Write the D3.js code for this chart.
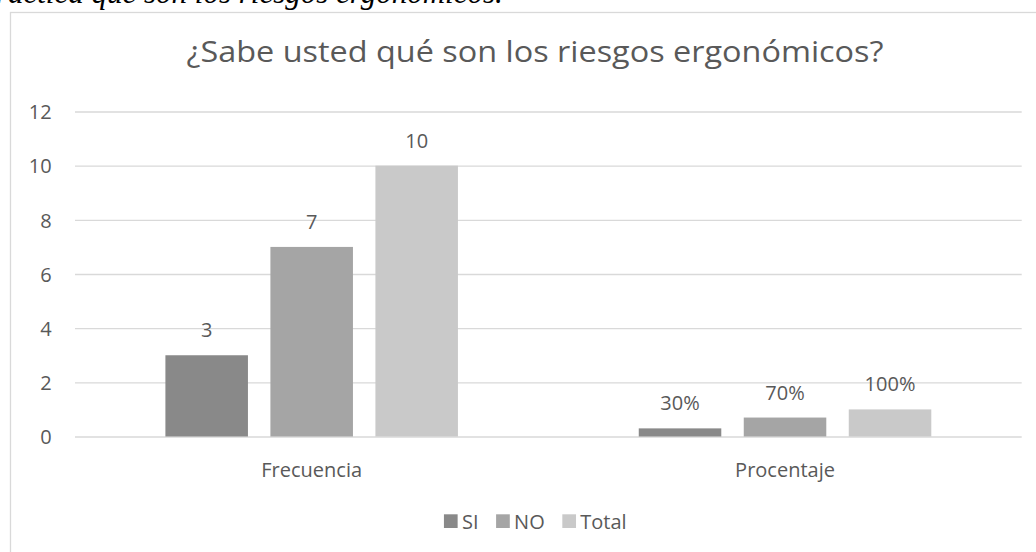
<!DOCTYPE html>
<html>
<head>
<meta charset="utf-8">
<script src="https://cdn.jsdelivr.net/npm/d3@7"></script>
<style>
  html, body { margin: 0; padding: 0; background: #fff; }
  svg { display: block; }
  text { font-family: "Open Sans", sans-serif; fill: #595959; }
</style>
</head>
<body>
<svg id="chart" width="1036" height="552"></svg>
<script>
const categories = ["Frecuencia", "Procentaje"];
const seriesNames = ["SI", "NO", "Total"];
const siValues = [3, 0.3];
const noValues = [7, 0.7];
const totalValues = [10, 1];
const siLabels = ["3", "30%"];
const noLabels = ["7", "70%"];
const totalLabels = ["10", "100%"];
const yTicks = [0, 2, 4, 6, 8, 10, 12];
const colors = ["#898989", "#a5a5a5", "#c9c9c9"];
const titleText = "¿Sabe usted qué son los riesgos ergonómicos?";
const captionText = "Pregunta 1. Práctica que son los riesgos ergonómicos.";

(function () {
const svg = d3.select("#chart");

// caption above the chart (cut off at the top)
svg.append("text")
  .attr("x", -176).attr("y", 2.5)
  .style("font-family", "'Liberation Serif', serif")
  .style("font-style", "italic")
  .style("font-size", "31px")
  .style("fill", "#000")
  .text(captionText);

// chart border
svg.append("rect")
  .attr("x", 10.5).attr("y", 12.5)
  .attr("width", 1100).attr("height", 600)
  .attr("fill", "#fff").attr("stroke", "#d9d9d9").attr("stroke-width", 1.3);

// title
svg.append("text")
  .attr("x", 535).attr("y", 62)
  .attr("text-anchor", "middle")
  .attr("textLength", 697).attr("lengthAdjust", "spacingAndGlyphs")
  .style("font-size", "30px")
  .text(titleText);

const pLeft = 75, pRight = 1021.7, pTop = 111.5, pBottom = 436.5;
const y = d3.scaleLinear().domain([0, 12]).range([pBottom, pTop]);
const x0 = d3.scaleBand().domain(categories).range([pLeft, pRight]);
const x1 = d3.scaleBand().domain(seriesNames).range([0, x0.bandwidth()])
  .paddingInner(0.214).paddingOuter(0.861);

// y axis with gridlines
const yAxis = svg.append("g")
  .attr("transform", `translate(${pLeft},0)`)
  .call(d3.axisLeft(y).tickValues(yTicks).tickSize(-(pRight - pLeft)).tickPadding(23.3));
yAxis.select(".domain").remove();
yAxis.selectAll(".tick line").attr("stroke", "#d9d9d9").attr("stroke-width", 1.4);
yAxis.selectAll(".tick text").style("font-size", "20px").style("fill", "#595959")
  .attr("dy", "0.36em").style("font-family", "'Open Sans', sans-serif");

// x axis labels
const xAxis = svg.append("g")
  .attr("transform", `translate(0,${pBottom})`)
  .call(d3.axisBottom(x0).tickSize(0).tickPadding(26));
xAxis.select(".domain").remove();
xAxis.selectAll(".tick text").style("font-size", "20px").style("fill", "#595959")
  .attr("dy", "0.71em").style("font-family", "'Open Sans', sans-serif");

const seriesVals = [siValues, noValues, totalValues];
const seriesLabels = [siLabels, noLabels, totalLabels];

const rows = [];
seriesNames.forEach((s, si) => {
  categories.forEach((c, ci) => {
    rows.push({ cat: c, ser: s, si, v: seriesVals[si][ci], lab: seriesLabels[si][ci] });
  });
});

svg.append("g").selectAll("rect")
  .data(rows).join("rect")
  .attr("x", d => x0(d.cat) + x1(d.ser))
  .attr("y", d => y(d.v))
  .attr("width", x1.bandwidth())
  .attr("height", d => y(0) - y(d.v))
  .attr("fill", d => colors[d.si]);

svg.append("g").selectAll("text")
  .data(rows).join("text")
  .attr("x", d => x0(d.cat) + x1(d.ser) + x1.bandwidth() / 2)
  .attr("y", d => y(d.v) - 18)
  .attr("text-anchor", "middle")
  .style("font-size", "20px")
  .text(d => d.lab);

// legend
const legend = svg.append("g");
const items = legend.selectAll("g").data(seriesNames).join("g");
items.append("rect").attr("width", 13.7).attr("height", 13.7).attr("y", 514.3)
  .attr("fill", (d, i) => colors[i]);
items.append("text").attr("x", 18).attr("y", 528.5).style("font-size", "20px").text(d => d);
const widths = [];
items.each(function () {
  const w = d3.select(this).select("text").node().getComputedTextLength();
  widths.push(18 + w);
});
const gap = 17.6;
const totalW = d3.sum(widths) + gap * (widths.length - 1);
let start = 535.3 - totalW / 2;
items.attr("transform", (d, i) => {
  const t = `translate(${start},0)`;
  start += widths[i] + gap;
  return t;
});
})();
</script>
</body>
</html>
